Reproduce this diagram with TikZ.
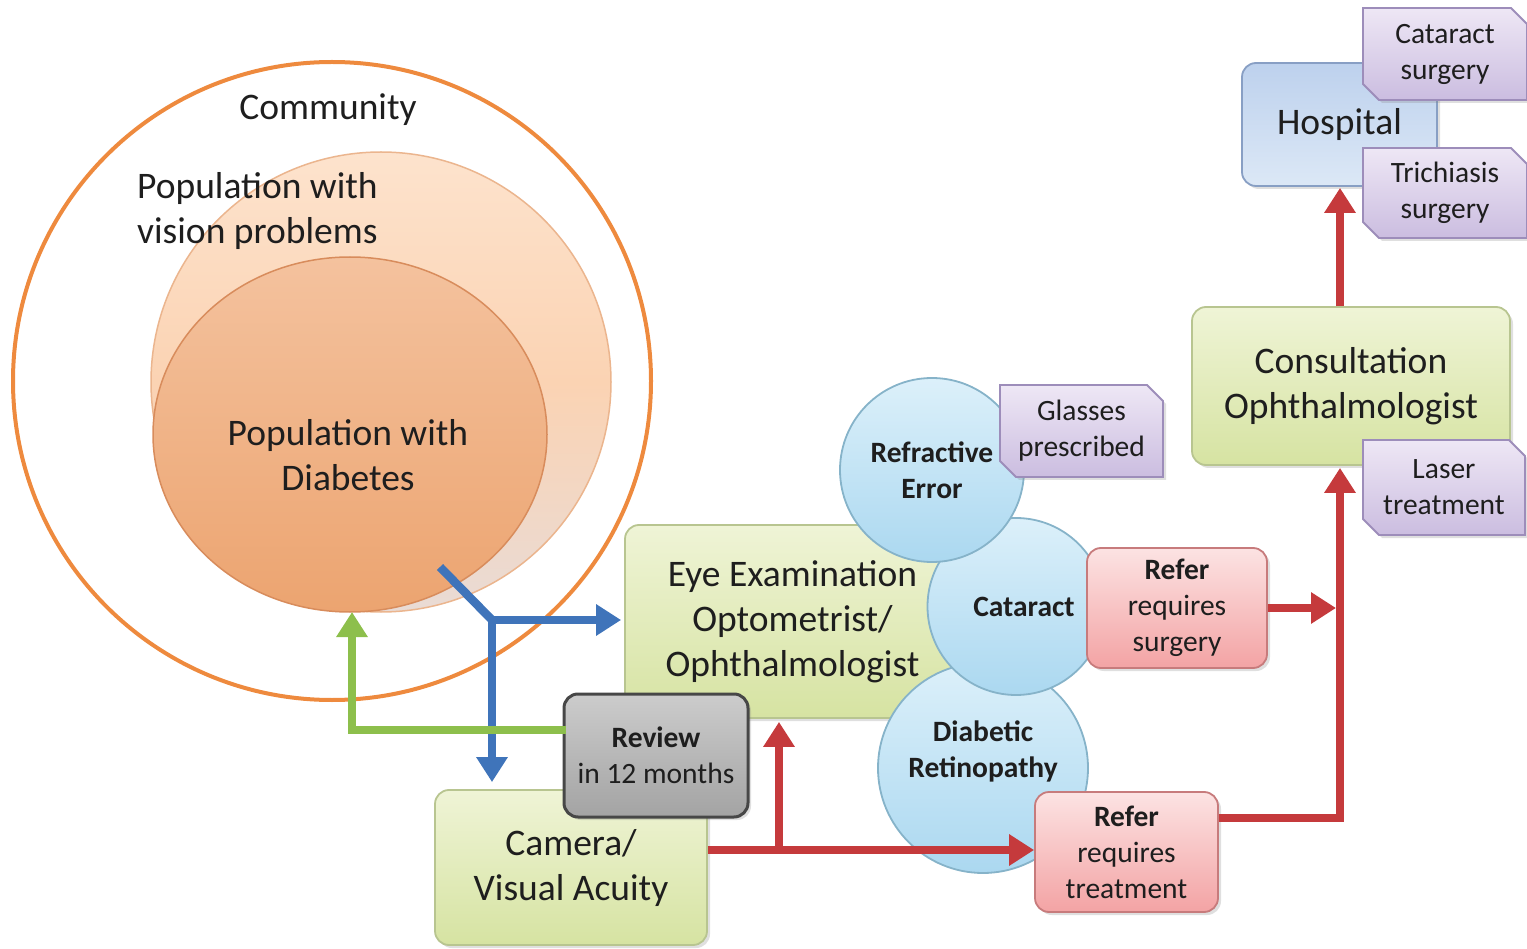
\documentclass[tikz,border=0pt]{standalone}
\usepackage{fontspec}
\setmainfont{Carlito}
\usetikzlibrary{arrows.meta,shapes.misc,shapes.geometric,shadows,calc}
\definecolor{txt}{HTML}{1E1E1E}
\definecolor{orangeC}{HTML}{EE8A3E}
\definecolor{vtop}{HTML}{FDE3CD}
\definecolor{vmid}{HTML}{FBD3B3}
\definecolor{vbot}{HTML}{E9DBD5}
\definecolor{vdraw}{HTML}{EBB58E}
\definecolor{dtop}{HTML}{F4C29E}
\definecolor{dbot}{HTML}{ECA470}
\definecolor{ddraw}{HTML}{D88C5C}
\definecolor{gtop}{HTML}{EFF4D6}
\definecolor{gbot}{HTML}{D6E3A2}
\definecolor{gdraw}{HTML}{B8C590}
\definecolor{rtop}{HTML}{FCE3E3}
\definecolor{rbot}{HTML}{F3A3A4}
\definecolor{rdraw}{HTML}{C77B7C}
\definecolor{ptop}{HTML}{EEE7F5}
\definecolor{pbot}{HTML}{CBBDE0}
\definecolor{pdraw}{HTML}{9D8DBA}
\definecolor{htop}{HTML}{BDD1ED}
\definecolor{hbot}{HTML}{DCE8F6}
\definecolor{hdraw}{HTML}{889FC4}
\definecolor{ctop}{HTML}{DCF0FA}
\definecolor{cbot}{HTML}{ABD8F0}
\definecolor{cdraw}{HTML}{86B3C9}
\definecolor{blueA}{HTML}{3F74BA}
\definecolor{greenA}{HTML}{8DBF4C}
\definecolor{redA}{HTML}{C53A3C}
\newcommand\bigtxt{\fontsize{37.5}{45}\selectfont}
\newcommand\smtxt{\fontsize{29.5}{36}\selectfont}
\begin{document}
\begin{tikzpicture}[x=1pt,y=-1pt,
  shad/.style={drop shadow={shadow xshift=3pt,shadow yshift=-3pt,opacity=0.25}},
  box/.style={rounded corners=14pt,align=center,text=txt,line width=1.8pt,shad,inner sep=0pt},
  greenbox/.style={box,top color=gtop,bottom color=gbot,draw=gdraw,font=\bigtxt},
  redbox/.style={box,top color=rtop,bottom color=rbot,draw=rdraw,font=\smtxt},
  graybox/.style={box,top color=black!20,bottom color=black!36,draw=black!72,line width=3pt,font=\smtxt},
  hospbox/.style={box,top color=htop,bottom color=hbot,draw=hdraw,font=\bigtxt},
  snipbox/.style={chamfered rectangle,chamfered rectangle corners={north east,south west},
    chamfered rectangle xsep=8pt,chamfered rectangle ysep=8pt,
    top color=ptop,bottom color=pbot,draw=pdraw,line width=1.8pt,align=center,text=txt,
    font=\smtxt,inner sep=0pt,shad},
  condition/.style={circle,inner sep=0pt,top color=ctop,bottom color=cbot,draw=cdraw,line width=1.8pt,
    align=center,text=txt,font=\smtxt\bfseries},
  arr/.style={line width=8.5pt,-{Triangle[width=30pt,length=25pt]}},
  plain/.style={line width=8.5pt},
  label/.style={align=center,text=txt,font=\bigtxt,inner sep=0pt}
]
\useasboundingbox (0,0) rectangle (1527,949);

% Venn
\node[circle,draw=orangeC,line width=4pt,minimum size=638pt,inner sep=0pt] (community) at (332,381) {};
\node[circle,minimum size=460pt,inner sep=0pt,draw=vdraw,line width=1.5pt,
  top color=vtop,bottom color=vbot,middle color=vmid] (vision) at (381,382) {};
\node[ellipse,minimum width=394pt,minimum height=355pt,inner sep=0pt,draw=ddraw,line width=1.5pt,
  top color=dtop,bottom color=dbot] (diab) at (350,434.5) {};
\node[label] (commtxt) at (328,110) {Community};
\node[label,anchor=west,align=left] (vistxt) at (137,211) {Population with\\vision problems};
\node[label] (diabtxt) at (348,455) {Population with\\Diabetes};

% boxes
\node[greenbox,minimum width=335pt,minimum height=193pt] (eye) at (792.5,621.5) {Eye Examination\\Optometrist/\\Ophthalmologist};
\node[greenbox,minimum width=272pt,minimum height=155pt] (camera) at (571,867.5) {Camera/\\Visual Acuity};
\node[graybox,minimum width=184pt,minimum height=123pt] (review) at (656,755.5) {\textbf{Review}\\in 12 months};
\node[greenbox,minimum width=318pt,minimum height=158pt] (consult) at (1351,386) {Consultation\\Ophthalmologist};
\node[hospbox,minimum width=195pt,minimum height=123pt] (hospital) at (1339.5,124.5) {Hospital};

% conditions
\node[condition,minimum size=210pt] (dr) at (983,768) {};
\node[label,font=\smtxt\bfseries] (drtxt) at (983,751) {Diabetic\\Retinopathy};
\node[condition,minimum size=177pt] (cat) at (1016,606.5) {};
\node[label,font=\smtxt\bfseries] (cattxt) at (1024,607) {Cataract};
\node[condition,minimum size=184pt] (refr) at (932,470) {Refractive\\Error};

% outcomes
\node[snipbox,minimum width=163pt,minimum height=92pt] (glasses) at (1081.5,431) {Glasses\\prescribed};
\node[redbox,minimum width=180pt,minimum height=120pt] (referS) at (1177,608) {\textbf{Refer}\\requires\\surgery};
\node[redbox,minimum width=183pt,minimum height=120pt] (referT) at (1126.5,852) {\textbf{Refer}\\requires\\treatment};
\node[snipbox,minimum width=162pt,minimum height=95pt] (laser) at (1444,487.5) {Laser\\treatment};
\node[snipbox,minimum width=164pt,minimum height=92pt] (catsurg) at (1445,54) {Cataract\\surgery};
\node[snipbox,minimum width=164pt,minimum height=90pt] (trich) at (1445,193) {Trichiasis\\surgery};

% connectors
\coordinate (bstart) at (440,567);
\coordinate (bj) at (492,620);
\draw[plain,blueA] (bstart) -- (bj);
\draw[arr,blueA] (bj) -- ([xshift=-3pt]eye.west |- bj);
\draw[arr,blueA] ([yshift=4pt]bj) -- ([yshift=7pt]bj |- camera.north);

\coordinate (gstart) at (566,730);
\coordinate (gend) at (352,612);
\draw[arr,greenA] (gstart) -| (gend);

\coordinate (rj) at (779,850);
\draw[arr,redA] (camera.east |- rj) -- (referT.west |- rj);
\draw[arr,redA] (rj) -- ([yshift=-3pt]rj |- eye.south);

\coordinate (vline) at (1340,818);
\draw[arr,redA] (referS.east) -- ([xshift=-4pt]referS.east -| vline);
\draw[arr,redA] (referT.east |- vline) -- (vline) -- ([yshift=-2pt]vline |- consult.south);
\draw[arr,redA] (consult.north -| vline) -- ([yshift=-1pt]hospital.south -| vline);
\end{tikzpicture}
\end{document}
